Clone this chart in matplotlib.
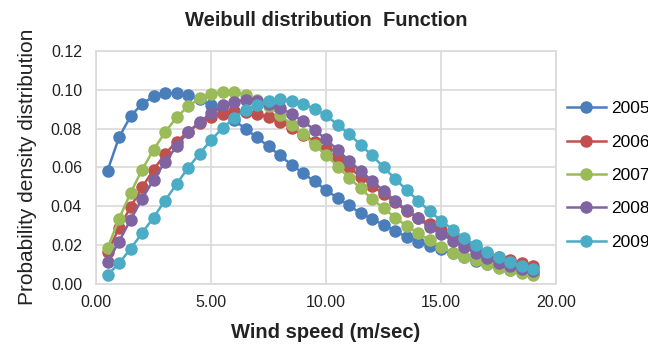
import matplotlib
matplotlib.use("Agg")
import matplotlib.pyplot as plt
from matplotlib.ticker import FormatStrFormatter

plt.rcParams['font.family'] = ['Liberation Sans', 'DejaVu Sans']

# wind speed (m/sec)
speed = [0.5, 1.0, 1.5, 2.0, 2.5, 3.0, 3.5, 4.0, 4.5, 5.0,
         5.5, 6.0, 6.5, 7.0, 7.5, 8.0, 8.5, 9.0, 9.5, 10.0,
         10.5, 11.0, 11.5, 12.0, 12.5, 13.0, 13.5, 14.0, 14.5, 15.0,
         15.5, 16.0, 16.5, 17.0, 17.5, 18.0, 18.5, 19.0]

pdf_2005 = [0.0582, 0.0754, 0.0863, 0.0927, 0.0966, 0.0983, 0.0983, 0.0971, 0.0950, 0.0920,
            0.0882, 0.0842, 0.0799, 0.0754, 0.0708, 0.0661, 0.0613, 0.0570, 0.0527, 0.0484,
            0.0441, 0.0403, 0.0363, 0.0334, 0.0303, 0.0272, 0.0241, 0.0217, 0.0194, 0.0177,
            0.0156, 0.0135, 0.0117, 0.0100, 0.0084, 0.0070, 0.0058, 0.0048]
pdf_2006 = [0.0162, 0.0286, 0.0394, 0.0496, 0.0587, 0.0668, 0.0733, 0.0782, 0.0828, 0.0860,
            0.0876, 0.0888, 0.0883, 0.0876, 0.0859, 0.0834, 0.0803, 0.0768, 0.0733, 0.0692,
            0.0647, 0.0599, 0.0552, 0.0506, 0.0461, 0.0420, 0.0375, 0.0341, 0.0306, 0.0277,
            0.0243, 0.0210, 0.0182, 0.0158, 0.0137, 0.0120, 0.0106, 0.0093]
pdf_2007 = [0.0182, 0.0334, 0.0467, 0.0587, 0.0690, 0.0780, 0.0858, 0.0914, 0.0955, 0.0978,
            0.0990, 0.0990, 0.0975, 0.0949, 0.0914, 0.0871, 0.0820, 0.0772, 0.0716, 0.0665,
            0.0604, 0.0547, 0.0492, 0.0437, 0.0389, 0.0341, 0.0298, 0.0260, 0.0224, 0.0191,
            0.0160, 0.0139, 0.0120, 0.0101, 0.0083, 0.0068, 0.0055, 0.0045]
pdf_2008 = [0.0110, 0.0217, 0.0329, 0.0437, 0.0535, 0.0627, 0.0708, 0.0782, 0.0832, 0.0880,
            0.0919, 0.0937, 0.0949, 0.0942, 0.0927, 0.0906, 0.0875, 0.0837, 0.0794, 0.0744,
            0.0690, 0.0635, 0.0582, 0.0530, 0.0479, 0.0427, 0.0380, 0.0337, 0.0294, 0.0258,
            0.0222, 0.0188, 0.0157, 0.0131, 0.0108, 0.0091, 0.0076, 0.0063]
pdf_2009 = [0.0044, 0.0105, 0.0179, 0.0260, 0.0341, 0.0428, 0.0513, 0.0596, 0.0670, 0.0740,
            0.0802, 0.0854, 0.0894, 0.0923, 0.0944, 0.0952, 0.0944, 0.0927, 0.0902, 0.0868,
            0.0820, 0.0772, 0.0716, 0.0661, 0.0601, 0.0541, 0.0484, 0.0428, 0.0374, 0.0325,
            0.0279, 0.0235, 0.0199, 0.0165, 0.0136, 0.0112, 0.0091, 0.0074]

years = ['2005', '2006', '2007', '2008', '2009']
series = [pdf_2005, pdf_2006, pdf_2007, pdf_2008, pdf_2009]
colors = ['#4A7EBB', '#C0504D', '#9BBB59', '#8064A2', '#4BACC6']

x_ticks = [0, 5, 10, 15, 20]
y_ticks = [0.00, 0.02, 0.04, 0.06, 0.08, 0.10, 0.12]

fig = plt.figure(figsize=(6.48, 3.49), dpi=100)
ax = fig.add_axes([96 / 648, 1 - 283.6 / 349, 460 / 648, 232.6 / 349])

for yr, vals, c in zip(years, series, colors):
    ax.plot(speed, vals, color=c, lw=1.8, marker='o', ms=8,
            mfc=c, mec=c, label=yr)

ax.set_xlim(0, 20)
ax.set_ylim(0, 0.12)
ax.set_xticks(x_ticks)
ax.set_yticks(y_ticks)
ax.xaxis.set_major_formatter(FormatStrFormatter('%.2f'))
ax.yaxis.set_major_formatter(FormatStrFormatter('%.2f'))
ax.tick_params(length=0, labelsize=11.5, colors='#222222')
ax.tick_params(axis='y', pad=10)
ax.tick_params(axis='x', pad=8)
ax.grid(True, color='#D9D9D9', lw=1.2)
ax.set_axisbelow(True)
for s in ax.spines.values():
    s.set_color('#D9D9D9')
    s.set_linewidth(1.2)

ax.set_ylabel('Probability density distribution', fontsize=15, color='#222222',
              labelpad=10)
fig.text(326 / 648, 1 - 20 / 349, 'Weibull distribution  Function',
         fontsize=14.5, fontweight='bold', ha='center', va='center', color='#222222')
fig.text(326 / 648, 1 - 332 / 349, 'Wind speed (m/sec)',
         fontsize=14.5, fontweight='bold', ha='center', va='center', color='#222222')

fig.legend(loc='center left', bbox_to_anchor=(566.5 / 648, 1 - 175.5 / 349),
           frameon=False, fontsize=12.5, handlelength=2.3, handletextpad=0.25,
           labelspacing=1.05, borderpad=0, borderaxespad=0)

fig.savefig('out.png', dpi=100)
